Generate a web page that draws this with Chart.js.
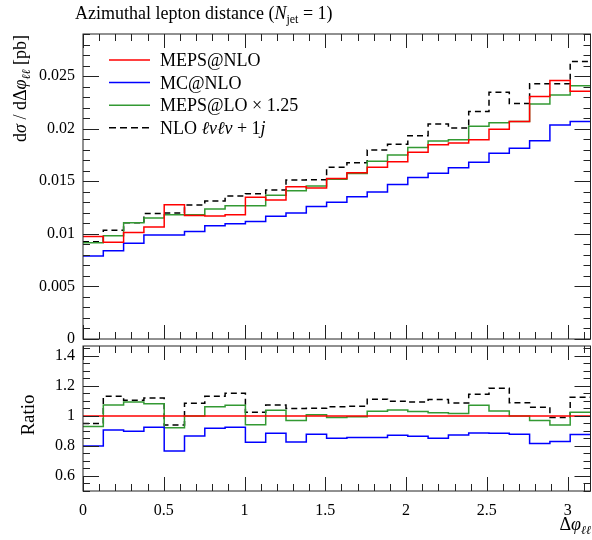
<!DOCTYPE html>
<html>
<head>
<meta charset="utf-8">
<script src="https://cdn.jsdelivr.net/npm/chart.js@4.4.0/dist/chart.umd.min.js"></script>
<style>
  body { margin: 0; background: #fff; }
  #wrap { position: relative; width: 592px; height: 540px; overflow: hidden; }
  canvas { position: absolute; left: 0; }
  #top { top: 0; }
  #bot { top: 316px; }
</style>
</head>
<body>
<div id="wrap">
  <canvas id="top" width="592" height="369"></canvas>
  <canvas id="bot" width="592" height="224"></canvas>
</div>
<script>
// 25 bins in delta phi, 0 .. pi
const nBins = 25;
const xMaxVal = Math.PI;

const mepsNlo = [0.00975, 0.00921, 0.01013, 0.01064, 0.01276, 0.01175, 0.01169, 0.01181, 0.01347, 0.01321,
                 0.01448, 0.01435, 0.01527, 0.01581, 0.01632, 0.01686, 0.01775, 0.01848, 0.01864, 0.01895,
                 0.01994, 0.02067, 0.02305, 0.02457, 0.02356];
const mcNlo   = [0.00788, 0.00838, 0.00911, 0.00988, 0.00988, 0.01023, 0.01076, 0.01095, 0.01118, 0.01168,
                 0.01197, 0.01260, 0.01300, 0.01353, 0.01397, 0.01469, 0.01536, 0.01575, 0.01629, 0.01680,
                 0.01766, 0.01813, 0.01886, 0.02035, 0.02067];
const mepsLo  = [0.00914, 0.00981, 0.01105, 0.01150, 0.01181, 0.01181, 0.01235, 0.01267, 0.01267, 0.01366,
                 0.01410, 0.01454, 0.01520, 0.01573, 0.01690, 0.01750, 0.01820, 0.01883, 0.01894, 0.02023,
                 0.02057, 0.02067, 0.02235, 0.02321, 0.02407];
const nloJet  = [0.00925, 0.01035, 0.01105, 0.01194, 0.01198, 0.01273, 0.01311, 0.01359, 0.01381, 0.01416,
                 0.01511, 0.01515, 0.01632, 0.01676, 0.01797, 0.01851, 0.01933, 0.02045, 0.02007, 0.02162,
                 0.02347, 0.02238, 0.02426, 0.02426, 0.02638];

// ratios to MEPS@NLO
const ratioRef = [1, 1, 1, 1, 1, 1, 1, 1, 1, 1, 1, 1, 1, 1, 1, 1, 1, 1, 1, 1, 1, 1, 1, 1, 1];
const ratioMc  = [0.800, 0.907, 0.898, 0.924, 0.767, 0.867, 0.918, 0.924, 0.824, 0.884, 0.827, 0.878, 0.851,
                  0.856, 0.856, 0.871, 0.864, 0.851, 0.873, 0.887, 0.884, 0.878, 0.816, 0.829, 0.876];
const ratioLo  = [0.929, 1.073, 1.093, 1.082, 0.922, 1.000, 1.062, 1.071, 0.942, 1.038, 0.969, 1.008, 0.989,
                  0.995, 1.031, 1.040, 1.029, 1.022, 1.016, 1.071, 1.033, 1.000, 0.969, 0.940, 1.024];
const ratioNlo = [0.949, 1.131, 1.105, 1.120, 0.940, 1.084, 1.131, 1.151, 1.025, 1.073, 1.050, 1.051, 1.062,
                  1.064, 1.112, 1.098, 1.093, 1.109, 1.087, 1.145, 1.184, 1.088, 1.058, 0.990, 1.124];

const xTicks = [0, 0.5, 1, 1.5, 2, 2.5, 3];
const xTickLabels = ["0", "0.5", "1", "1.5", "2", "2.5", "3"];
const mainYTicks = [0, 0.005, 0.01, 0.015, 0.02, 0.025];
const mainYLabels = ["0", "0.005", "0.01", "0.015", "0.02", "0.025"];
const ratioYTicks = [0.6, 0.8, 1, 1.2, 1.4];
const ratioYLabels = ["0.6", "0.8", "1", "1.2", "1.4"];

const SERIF = '"Liberation Serif", "DejaVu Serif", serif';
const RED = "#ff0000", BLUE = "#0000ff", GREEN = "#339933", BLACK = "#000000";

const binEdges = Array.from({ length: nBins + 1 }, (_, i) => i * xMaxVal / nBins);

function stepPoints(vals) {
  return binEdges.map((x, i) => ({ x: x, y: vals[Math.min(i, vals.length - 1)] }));
}

function hist(label, vals, color, dash) {
  return {
    label: label,
    data: stepPoints(vals),
    borderColor: color,
    borderWidth: 1.5,
    borderDash: dash || [],
    stepped: true,
    pointRadius: 0,
    fill: false,
    tension: 0
  };
}

function range(from, to, step) {
  const out = [];
  for (let v = from; v <= to + 1e-9; v += step) out.push(v);
  return out;
}

// rich text: segments [text, font, dy]
function richWidth(ctx, segs) {
  let w = 0;
  segs.forEach(s => { ctx.font = s[1]; w += ctx.measureText(s[0]).width; });
  return w;
}
function drawRich(ctx, x, y, segs) {
  segs.forEach(s => {
    ctx.font = s[1];
    ctx.fillText(s[0], x, y + (s[2] || 0));
    x += ctx.measureText(s[0]).width;
  });
}

const frame = {
  id: "frame",
  afterDatasetsDraw(chart, args, o) {
    const { ctx, chartArea: a, scales } = chart;
    ctx.save();
    ctx.strokeStyle = "#222";
    ctx.lineWidth = 1;
    ctx.strokeRect(a.left, a.top, a.right - a.left, a.bottom - a.top);
    ctx.beginPath();
    const major = 14, minor = 7;
    range(0, 3.1, 0.1).forEach(v => {
      const px = Math.round(scales.x.getPixelForValue(v)) + 0.5;
      const len = Math.abs(v * 2 - Math.round(v * 2)) < 1e-6 ? major : minor;
      ctx.moveTo(px, a.bottom); ctx.lineTo(px, a.bottom - len);
      ctx.moveTo(px, a.top); ctx.lineTo(px, a.top + len);
    });
    o.yMinor.forEach(v => {
      const py = Math.round(scales.y.getPixelForValue(v)) + 0.5;
      const isMajor = o.yMajor.some(m => Math.abs(m - v) < 1e-9);
      const len = isMajor ? major + 2 : minor;
      ctx.moveTo(a.left, py); ctx.lineTo(a.left + len, py);
      ctx.moveTo(a.right, py); ctx.lineTo(a.right - len, py);
    });
    ctx.stroke();
    ctx.restore();
  }
};

const topTexts = {
  id: "topTexts",
  afterDraw(chart) {
    const ctx = chart.ctx;
    ctx.save();
    ctx.fillStyle = "#000";
    ctx.textBaseline = "alphabetic";
    // title
    drawRich(ctx, 75, 19, [
      ["Azimuthal lepton distance (", "18px " + SERIF],
      ["N", "italic 18px " + SERIF],
      ["jet", "12px " + SERIF, 4],
      [" = 1)", "18px " + SERIF]
    ]);
    // y title
    const ySegs = [
      ["d", "18px " + SERIF], ["σ", "italic 18px " + SERIF], [" / ", "18px " + SERIF],
      ["dΔ", "18px " + SERIF], ["φ", "italic 18px " + SERIF], ["ℓℓ", "italic 12px " + SERIF, 4],
      [" [pb]", "18px " + SERIF]
    ];
    ctx.translate(26, 35);
    ctx.rotate(-Math.PI / 2);
    drawRich(ctx, -richWidth(ctx, ySegs), 0, ySegs);
    ctx.setTransform(1, 0, 0, 1, 0, 0);
    // legend
    const rows = [
      { c: RED, segs: [["MEPS@NLO", "18px " + SERIF]] },
      { c: BLUE, segs: [["MC@NLO", "18px " + SERIF]] },
      { c: GREEN, segs: [["MEPS@LO × 1.25", "18px " + SERIF]] },
      { c: BLACK, dash: [7, 4], segs: [["NLO ", "18px " + SERIF], ["ℓνℓν", "italic 18px " + SERIF],
                                       [" + 1", "18px " + SERIF], ["j", "italic 18px " + SERIF]] }
    ];
    rows.forEach((r, i) => {
      const y = 60 + i * 22.6;
      ctx.strokeStyle = r.c;
      ctx.lineWidth = 1.5;
      ctx.setLineDash(r.dash || []);
      ctx.beginPath();
      ctx.moveTo(109, y); ctx.lineTo(150, y);
      ctx.stroke();
      ctx.setLineDash([]);
      drawRich(ctx, 160, y + 6, r.segs);
    });
    ctx.restore();
  }
};

const botTexts = {
  id: "botTexts",
  afterDraw(chart) {
    const ctx = chart.ctx;
    ctx.save();
    ctx.fillStyle = "#000";
    ctx.font = "19px " + SERIF;
    ctx.textAlign = "center";
    ctx.translate(34, 99);
    ctx.rotate(-Math.PI / 2);
    ctx.fillText("Ratio", 0, 0);
    ctx.setTransform(1, 0, 0, 1, 0, 0);
    ctx.textAlign = "left";
    const xSegs = [["Δ", "18px " + SERIF], ["φ", "italic 18px " + SERIF], ["ℓℓ", "italic 12px " + SERIF, 4]];
    drawRich(ctx, 591 - richWidth(ctx, xSegs), 214, xSegs);
    ctx.restore();
  }
};

const tickFont = { family: SERIF, size: 16 };

new Chart(document.getElementById("top"), {
  type: "line",
  data: {
    datasets: [
      hist("MEPS@NLO", mepsNlo, RED),
      hist("MC@NLO", mcNlo, BLUE),
      hist("MEPS@LO × 1.25", mepsLo, GREEN),
      hist("NLO lvlv + 1j", nloJet, BLACK, [6, 4])
    ]
  },
  options: {
    responsive: false,
    animation: false,
    layout: { padding: { top: 34, bottom: 30, left: 0, right: 1.5 } },
    plugins: {
      legend: { display: false },
      tooltip: { enabled: false },
      frame: { yMajor: mainYTicks, yMinor: range(0, 0.029, 0.001) }
    },
    scales: {
      x: { type: "linear", min: 0, max: xMaxVal, display: false },
      y: {
        min: 0, max: 0.029,
        grid: { display: false, drawTicks: false },
        border: { display: false },
        afterBuildTicks: s => { s.ticks = mainYTicks.map(v => ({ value: v })); },
        ticks: { callback: (v, i) => mainYLabels[i], font: tickFont, color: "#000", padding: 8 },
        afterFit: s => { s.width = 83; }
      }
    }
  },
  plugins: [frame, topTexts]
});

new Chart(document.getElementById("bot"), {
  type: "line",
  data: {
    datasets: [
      hist("MEPS@NLO", ratioRef, RED),
      hist("MC@NLO", ratioMc, BLUE),
      hist("MEPS@LO × 1.25", ratioLo, GREEN),
      hist("NLO lvlv + 1j", ratioNlo, BLACK, [6, 4])
    ]
  },
  options: {
    responsive: false,
    animation: false,
    layout: { padding: { top: 30, bottom: 0, left: 0, right: 1.5 } },
    plugins: {
      legend: { display: false },
      tooltip: { enabled: false },
      frame: { yMajor: ratioYTicks, yMinor: range(0.5, 1.45, 0.05) }
    },
    scales: {
      x: {
        type: "linear", min: 0, max: xMaxVal,
        grid: { display: false, drawTicks: false },
        border: { display: false },
        afterBuildTicks: s => { s.ticks = xTicks.map(v => ({ value: v })); },
        ticks: { callback: (v, i) => xTickLabels[i], font: tickFont, color: "#000", padding: 10, maxRotation: 0 },
        afterFit: s => { s.height = 49; }
      },
      y: {
        min: 0.5, max: 1.466,
        grid: { display: false, drawTicks: false },
        border: { display: false },
        afterBuildTicks: s => { s.ticks = ratioYTicks.map(v => ({ value: v })); },
        ticks: { callback: (v, i) => ratioYLabels[i], font: tickFont, color: "#000", padding: 8 },
        afterFit: s => { s.width = 83; }
      }
    }
  },
  plugins: [frame, botTexts]
});
</script>
</body>
</html>
